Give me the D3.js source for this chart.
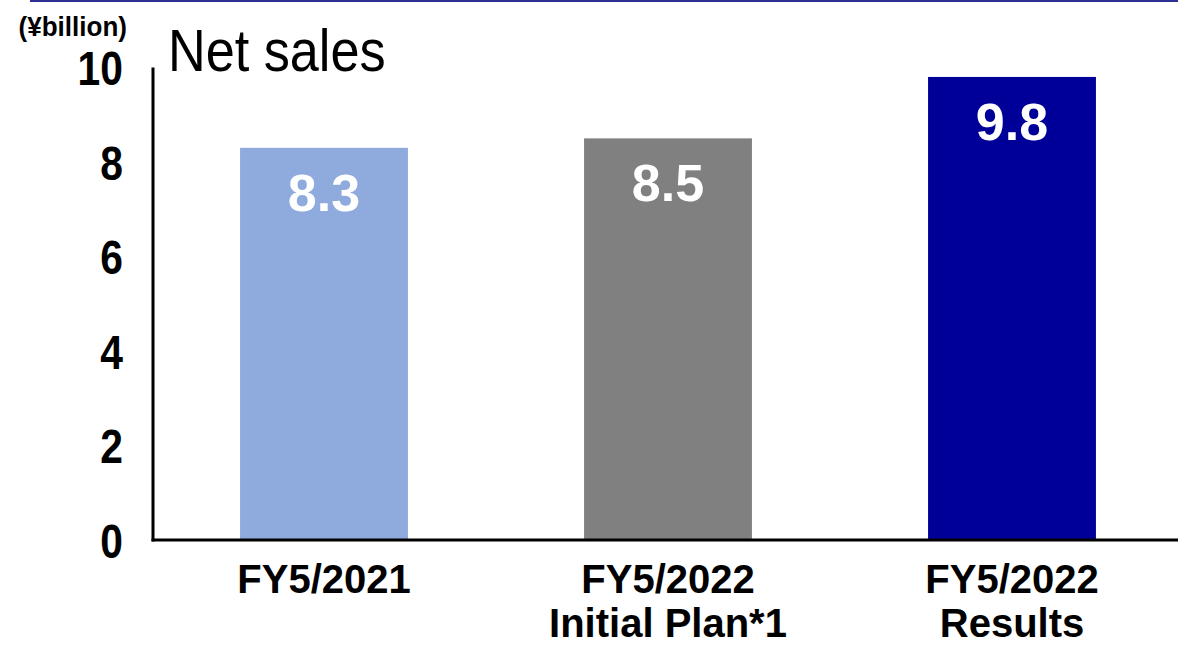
<!DOCTYPE html>
<html>
<head>
<meta charset="utf-8">
<script src="https://cdn.jsdelivr.net/npm/d3@7"></script>
<style>
  html, body { margin: 0; padding: 0; background: #fff; }
  svg { display: block; font-family: "Liberation Sans", Arial, sans-serif; }
</style>
</head>
<body>
<svg id="chart" width="1178" height="646"></svg>
<script>
// Net sales by period (¥billion)
const categories = [["FY5/2021"], ["FY5/2022", "Initial Plan*1"], ["FY5/2022", "Results"]];
const values = [8.3, 8.5, 9.8];
const barColors = ["#8faadc", "#808080", "#000099"];
const yTicks = [0, 2, 4, 6, 8, 10];
const unitLabel = "(¥billion)";
const titleText = "Net sales";

const svg = d3.select("#chart");
const W = 1178;

// Banner rule along the top edge
svg.append("line")
  .attr("x1", 30).attr("x2", W).attr("y1", 1).attr("y2", 1)
  .attr("stroke", "#2e3192").attr("stroke-width", 2);

const y = d3.scaleLinear().domain([0, 10]).range([540, 67.5]);
const x = d3.scaleBand()
  .domain(d3.range(categories.length))
  .range([152, 1184])
  .paddingInner(0.512)
  .paddingOuter(0.256);

// Bars
svg.append("g").selectAll("rect")
  .data(values)
  .join("rect")
  .attr("x", (d, i) => x(i))
  .attr("width", x.bandwidth())
  .attr("y", d => y(d))
  .attr("height", d => y(0) - y(d))
  .attr("fill", (d, i) => barColors[i]);

// Value labels inside the bars
svg.append("g").selectAll("text")
  .data(values)
  .join("text")
  .attr("x", (d, i) => x(i) + x.bandwidth() / 2)
  .attr("y", d => y(d) + 63)
  .attr("text-anchor", "middle")
  .attr("font-weight", "bold")
  .attr("font-size", 52)
  .attr("fill", "#fff")
  .text(d => d.toFixed(1));

// Y axis: line + tick labels in a condensed face, no tick marks
const squeeze = 0.85;
const yAxis = svg.append("g")
  .attr("transform", "translate(153,0)")
  .call(d3.axisLeft(y).tickValues(yTicks).tickSize(0).tickFormat(d3.format("d")));
yAxis.select(".domain").attr("stroke", "#000").attr("stroke-width", 3)
  .attr("d", `M0,${y(10)}V${y(0) + 1.5}`);
yAxis.selectAll(".tick text")
  .attr("font-family", "Liberation Sans, Arial, sans-serif")
  .attr("font-weight", "bold")
  .attr("font-size", 48)
  .attr("fill", "#000")
  .attr("x", -30 / squeeze)
  .attr("dy", "0.36em")
  .attr("transform", `scale(${squeeze},1)`);

// X axis baseline running to the right edge
svg.append("line")
  .attr("x1", 151.5).attr("x2", W)
  .attr("y1", y(0)).attr("y2", y(0))
  .attr("stroke", "#000").attr("stroke-width", 3);

// Category labels (one or two lines)
const xl = svg.append("g").selectAll("text")
  .data(categories)
  .join("text")
  .attr("text-anchor", "middle")
  .attr("font-weight", "bold")
  .attr("font-size", 40)
  .attr("fill", "#000");
xl.each(function(lines, i) {
  const t = d3.select(this);
  lines.forEach((s, k) => {
    t.append("tspan")
      .attr("x", x(i) + x.bandwidth() / 2)
      .attr("y", 593 + k * 44)
      .text(s);
  });
});

// Unit label and title
svg.append("text")
  .attr("transform", "translate(127,36) scale(0.93,1)")
  .attr("text-anchor", "end")
  .attr("font-weight", "bold")
  .attr("font-size", 28)
  .attr("fill", "#000")
  .text(unitLabel);

svg.append("text")
  .attr("transform", "translate(168,71) scale(0.87,1)")
  .attr("font-size", 60)
  .attr("fill", "#000")
  .text(titleText);
</script>
</body>
</html>
